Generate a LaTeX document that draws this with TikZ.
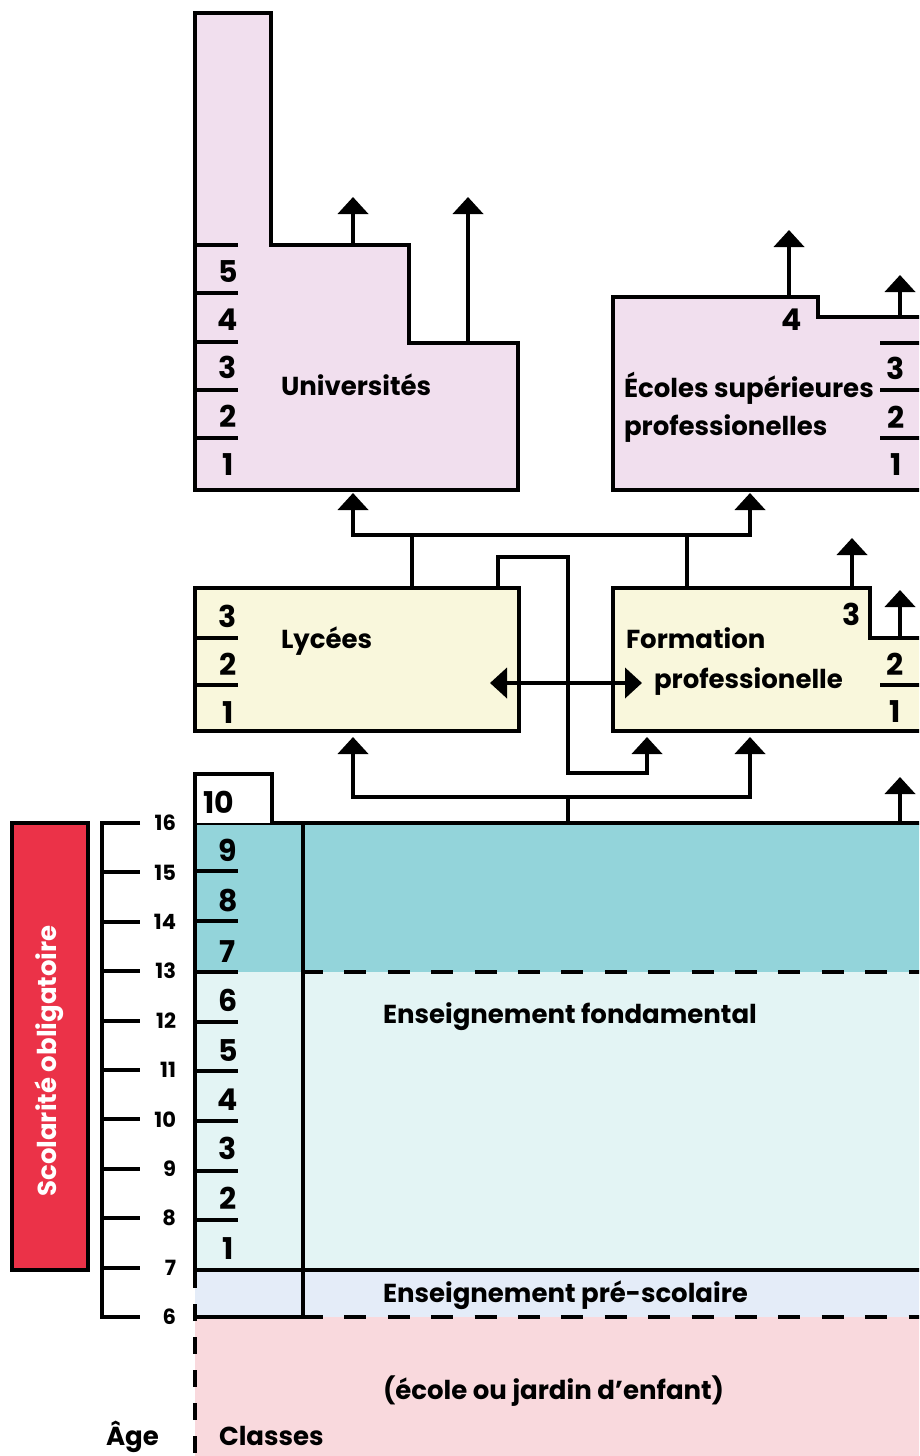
\documentclass[tikz,border=0pt]{standalone}
\usepackage{fontspec}
\setmainfont{Poppins}
\usetikzlibrary{arrows.meta}
\definecolor{univ}{HTML}{F1DFEE}
\definecolor{lyc}{HTML}{F9F7DC}
\definecolor{teal}{HTML}{93D4DA}
\definecolor{lcyan}{HTML}{E3F4F4}
\definecolor{lav}{HTML}{E4ECF8}
\definecolor{pinkb}{HTML}{F9D9DD}
\definecolor{redb}{HTML}{EB3248}
\begin{document}
\begin{tikzpicture}[x=1pt,y=-1pt, line width=4pt, line join=miter,
  lbl/.style={font=\bfseries\fontsize{26}{28}\selectfont, inner sep=0pt, anchor=base west},
  num/.style={font=\bfseries\fontsize{30}{32}\selectfont, inner sep=0pt, anchor=base},
  agenum/.style={font=\bfseries\fontsize{21}{24}\selectfont, inner sep=0pt, anchor=east},
  tip/.tip={Triangle[width=30pt,length=17pt]},
  arr/.style={-tip},
  darr/.style={tip-tip},
  boxline/.style={draw=black, line width=4pt},
  dashh/.style={dash pattern=on 22pt off 21.4pt},
  dashv/.style={dash pattern=on 17pt off 16pt}]
\useasboundingbox (0,0) rectangle (919,1456);
\clip (0,0) rectangle (919,1456);

% ---------- bands ----------
\fill[pinkb] (195,1317) rectangle (940,1470);
\fill[lav] (195,1270) rectangle (940,1317);
\fill[lcyan] (195,972) rectangle (940,1270);
\fill[teal] (195,823) rectangle (940,972);
\draw (195,823) -- (940,823);
\draw (195,823) -- (195,1272);
\draw (195,1270) -- (940,1270);
\draw (303,823) -- (303,1317);
\draw (195,1317) -- (303,1317);
\draw[dashh] (301,972) -- (940,972);
\draw[dashh] (301,1317) -- (940,1317);
\draw[dashv] (195,1271) -- (195,1470);
\foreach \yy in {871,921,972,1022,1071,1121,1171,1220} \draw (195,\yy) -- (238,\yy);
\foreach \n/\yy in {9/861,8/911,7/962,6/1011,5/1061,4/1110,3/1159,2/1209,1/1259}
  \node[num] (c\n) at (228,\yy) {\n};

% ---------- box 10 ----------
\draw[boxline, fill=white] (195,823) -- (195,774) -- (272,774) -- (272,823);
\node[num, anchor=base west] (c10) at (201,813) {10};

% ---------- age scale ----------
\draw (140,823) -- (102,823) -- (102,1317) -- (140,1317);
\foreach \a [evaluate=\a as \yy using {823+(16-\a)*49.4}] in {16,...,6} {
  \draw (102,\yy) -- (140,\yy);
  \node[agenum] (age\a) at (178,\yy) {\a};
}

% ---------- red box ----------
\draw[boxline, fill=redb] (12,823) rectangle (88,1270);
\node[rotate=90, text=white, font=\bfseries\fontsize{26}{28}\selectfont, inner sep=0pt] (scol) at (49,1061) {Scolarité obligatoire};

% ---------- universites ----------
\draw[boxline, fill=univ] (195,13) -- (271,13) -- (271,245) -- (409,245) -- (409,343) -- (518,343) -- (518,490) -- (195,490) -- cycle;
\foreach \yy in {245,293,342,390,438} \draw (195,\yy) -- (238,\yy);
\foreach \n/\yy in {5/282,4/330,3/378,2/427,1/475} \node[num] (u\n) at (228,\yy) {\n};
\node[lbl] (univ) at (279,395) {Universités};
\coordinate (uA) at (353,245);
\coordinate (uB) at (468,343);
\draw[arr] (uA) -- (353,197);
\draw[arr] (uB) -- (468,197);

% ---------- ecoles superieures ----------
\draw[boxline, fill=univ] (613,297) -- (818,297) -- (818,317) -- (940,317) -- (940,490) -- (613,490) -- cycle;
\foreach \yy in {343,390,438} \draw (880,\yy) -- (940,\yy);
\node[num] (e4) at (792,330) {4};
\foreach \n/\yy in {3/379,2/428,1/475} \node[num] (e\n) at (896,\yy) {\n};
\node[lbl] (ecoles) at (622,397) {Écoles supérieures};
\node[lbl] (ecoles2) at (622,435) {professionelles};
\coordinate (eA) at (789,297);
\coordinate (eB) at (900,317);
\draw[arr] (eA) -- (789,230);
\draw[arr] (eB) -- (900,275);

% ---------- lycees ----------
\draw[boxline, fill=lyc] (195,588) rectangle (519,731);
\foreach \yy in {638,685} \draw (195,\yy) -- (238,\yy);
\foreach \n/\yy in {3/627,2/675,1/723} \node[num] (l\n) at (228,\yy) {\n};
\node[lbl] (lycees) at (279,648) {Lycées};

% ---------- formation professionnelle ----------
\draw[boxline, fill=lyc] (613,588) -- (870,588) -- (870,638) -- (940,638) -- (940,731) -- (613,731) -- cycle;
\draw (880,685) -- (940,685);
\node[num] (f3) at (852,625) {3};
\foreach \n/\yy in {2/675,1/722} \node[num] (f\n) at (895,\yy) {\n};
\node[lbl] (form) at (624,648) {Formation};
\node[lbl] (form2) at (652,688) {professionelle};
\coordinate (fA) at (852,588);
\coordinate (fB) at (900,638);
\draw[arr] (fA) -- (852,538);
\draw[arr] (fB) -- (900,590);

% ---------- connectors ----------
\coordinate (lycTop) at (412,588);
\coordinate (formTop) at (687,588);
\draw (lycTop) -- (412,535);
\draw (formTop) -- (687,535);
\draw[darr] (353,493) -- (353,535) -- (750,535) -- (750,493);

\coordinate (lycTopR) at (498,588);
\draw[arr] (lycTopR) -- (498,557) -- (568,557) -- (568,773) -- (647,773) -- (647,737);
\draw[darr] (490,683) -- (642,683);

\coordinate (fondTop) at (568,823);
\draw (fondTop) -- (568,797);
\draw[darr] (353,737) -- (353,797) -- (750,797) -- (750,737);
\coordinate (fondTopR) at (900,823);
\draw[arr] (fondTopR) -- (900,777);

% ---------- band labels ----------
\node[lbl] (fond) at (381,1023) {Enseignement fondamental};
\node[lbl] (pres) at (381,1302) {Enseignement pré-scolaire};
\node[lbl] (ecole) at (381,1399) {(école ou jardin d’enfant)};
\node[lbl] (age) at (104,1445) {Âge};
\node[lbl] (classes) at (217,1445) {Classes};
\end{tikzpicture}
\end{document}
